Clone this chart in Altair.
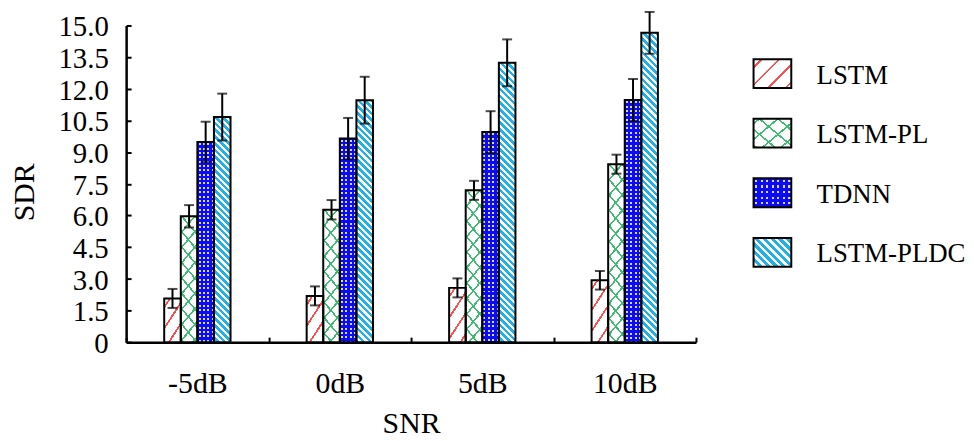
import math
import altair as alt

# ---------------- data ----------------
snr_labels = ["-5dB", "0dB", "5dB", "10dB"]
series_names = ["LSTM", "LSTM-PL", "TDNN", "LSTM-PLDC"]

lstm_sdr = [2.07, 2.19, 2.57, 2.93]
lstm_err = [0.45, 0.45, 0.45, 0.44]
lstm_pl_sdr = [5.96, 6.27, 7.19, 8.43]
lstm_pl_err = [0.53, 0.46, 0.45, 0.45]
tdnn_sdr = [9.48, 9.64, 9.95, 11.47]
tdnn_err = [0.96, 0.98, 0.99, 0.99]
lstm_pldc_sdr = [10.66, 11.46, 13.23, 14.65]
lstm_pldc_err = [1.11, 1.11, 1.11, 0.99]

y_tick_values = [0, 1.5, 3.0, 4.5, 6.0, 7.5, 9.0, 10.5, 12.0, 13.5, 15.0]

# ---------------- layout / style ----------------
PLOT_W, PLOT_H = 574, 319
Y_MAX = 15.0
BAND_W = PLOT_W / len(snr_labels)
BAR_W = 16.7
GROUP_START = (BAND_W - len(series_names) * BAR_W) / 2
LEG_W, LEG_STEP, LEG_BAND = 38, 60, 29
LEG_INNER = (LEG_STEP - LEG_BAND) / LEG_STEP
LEG_OUTER = 0.567
LEG_H = LEG_STEP * (len(series_names) - LEG_INNER + 2 * LEG_OUTER)
FONT = "Liberation Serif"

RED = "#ff4d4d"
GREEN = "#3cbc70"
BLUE = "#0c0cf0"
DOT = "#d4d4ff"
CYAN = "#22b0e6"
WHITE = "#ffffff"
CLEAR = "rgba(60,188,112,0)"
CLEAR_BLUE = "rgba(12,12,240,0)"


def _r(x):
    return round(x, 5)


def stripe_fill(w, h, angle, period, width, on, off, phase=0.0):
    """Linear gradient (bbox units) drawing parallel stripes at a pixel angle."""
    th = math.radians(angle)
    nx, ny = math.sin(th), math.cos(th)
    corners = [(0.0, 0.0), (w, 0.0), (0.0, h), (w, h)]
    vals = [nx * x + ny * y for x, y in corners]
    lo, hi = min(vals), max(vals)
    rng = hi - lo
    cx, cy = corners[vals.index(lo)]
    u1, v1 = cx / w, cy / h
    ax, ay = nx * w / rng, ny * h / rng
    a2 = ax * ax + ay * ay
    u2, v2 = u1 + ax / a2, v1 + ay / a2
    stops = []
    k = math.floor((lo - phase) / period)
    s = phase + k * period
    while s < hi:
        a, b = max(s, lo), min(s + width, hi)
        if b > a:
            ta, tb = _r((a - lo) / rng), _r((b - lo) / rng)
            stops += [{"offset": ta, "color": off}, {"offset": ta, "color": on},
                      {"offset": tb, "color": on}, {"offset": tb, "color": off}]
        s += period
    if not stops:
        stops = [{"offset": 0, "color": off}, {"offset": 1, "color": off}]
    return {"gradient": "linear", "x1": _r(u1), "y1": _r(v1),
            "x2": _r(u2), "y2": _r(v2), "stops": stops}


BAR_PATTERNS = {
    "LSTM": [dict(angle=57, period=11.5, width=1.8, on=RED, off=WHITE, phase=4), None, None],
    "LSTM-PL": [dict(angle=50, period=10.0, width=1.6, on=GREEN, off=WHITE),
                dict(angle=130, period=10.0, width=1.6, on=GREEN, off=CLEAR), None],
    "TDNN": [DOT,
             dict(angle=90, period=4.4, width=2.0, on=CLEAR_BLUE, off=BLUE, phase=1.2),
             dict(angle=0, period=4.4, width=2.0, on=CLEAR_BLUE, off=BLUE, phase=1.2)],
    "LSTM-PLDC": [dict(angle=135, period=4.8, width=2.6, on=CYAN, off=WHITE), None, None],
}
LEG_PATTERNS = {
    "LSTM": [dict(angle=45, period=12.5, width=1.8, on=RED, off=WHITE, phase=5), None, None],
    "LSTM-PL": [dict(angle=40, period=12.0, width=1.6, on=GREEN, off=WHITE, phase=3),
                dict(angle=140, period=12.0, width=1.6, on=GREEN, off=CLEAR, phase=3), None],
    "TDNN": [DOT,
             dict(angle=90, period=5.6, width=2.2, on=CLEAR_BLUE, off=BLUE, phase=1.5),
             dict(angle=0, period=5.6, width=2.2, on=CLEAR_BLUE, off=BLUE, phase=1.5)],
    "LSTM-PLDC": [dict(angle=135, period=5.5, width=3.0, on=CYAN, off=WHITE), None, None],
}


def pattern_fills(series, w, h, spec):
    out = []
    for layer in spec[series]:
        if layer is None:
            out.append("transparent")
        elif isinstance(layer, str):
            out.append(layer)
        else:
            out.append(stripe_fill(w, h, **layer))
    return out


sdr_by_series = dict(zip(series_names, [lstm_sdr, lstm_pl_sdr, tdnn_sdr, lstm_pldc_sdr]))
err_by_series = dict(zip(series_names, [lstm_err, lstm_pl_err, tdnn_err, lstm_pldc_err]))

bar_rows = []
for s in series_names:
    for i, snr in enumerate(snr_labels):
        v = sdr_by_series[s][i]
        e = err_by_series[s][i]
        g1, g2, g3 = pattern_fills(s, BAR_W, v * PLOT_H / Y_MAX, BAR_PATTERNS)
        bar_rows.append(dict(snr=snr, series=s, sdr=v, lo=v - e, hi=v + e,
                             g1=g1, g2=g2, g3=g3))

leg_rows = []
for s in series_names:
    g1, g2, g3 = pattern_fills(s, LEG_W, LEG_BAND, LEG_PATTERNS)
    leg_rows.append(dict(series=s, g1=g1, g2=g2, g3=g3))

# ---------------- axes ----------------
x_axis = alt.Axis(
    title="SNR", labelAngle=0, labelFont=FONT, labelFontSize=30, labelPadding=32,
    labelColor="black", tickBand="extent", tickSize=alt.ExprRef(expr="-5"),
    tickWidth=2, tickColor="black", domainColor="black", domainWidth=2.5, grid=False,
    titleFont=FONT, titleFontSize=30, titleFontWeight="normal", titleColor="black",
    titleX=PLOT_W / 2, titleY=91, titleBaseline="alphabetic", titleAlign="center",
)
y_axis = alt.Axis(
    title="SDR", values=y_tick_values,
    labelExpr="datum.value == 0 ? '0' : format(datum.value, '.1f')",
    labelFont=FONT, labelFontSize=29, labelPadding=23, labelOffset=1.3, labelColor="black",
    tickSize=alt.ExprRef(expr="-5"), tickWidth=2, tickColor="black",
    domainColor="black", domainWidth=2.5, grid=False,
    titleFont=FONT, titleFontSize=30, titleFontWeight="normal", titleColor="black",
    titleX=-93, titleY=167.5, titleBaseline="alphabetic", titleAngle=270, titleAlign="center",
)

bar_x = alt.X("snr:N", sort=snr_labels, scale=alt.Scale(paddingInner=0, paddingOuter=0), axis=x_axis)
bar_off = alt.XOffset("series:N", sort=series_names,
                      scale=alt.Scale(paddingInner=0, paddingOuter=0,
                                      range=[GROUP_START, GROUP_START + len(series_names) * BAR_W]))


def y_enc(field):
    return alt.Y(f"{field}:Q", scale=alt.Scale(domain=[0, Y_MAX], nice=False, zero=True), axis=y_axis)


base = alt.Chart(alt.Data(values=bar_rows))
layers = [
    base.mark_bar().encode(x=bar_x, xOffset=bar_off, y=y_enc("sdr"), fill=alt.Fill("g1:N", scale=None)),
    base.mark_bar().encode(x=bar_x, xOffset=bar_off, y=y_enc("sdr"), fill=alt.Fill("g2:N", scale=None)),
    base.mark_bar(stroke="black", strokeWidth=2).encode(
        x=bar_x, xOffset=bar_off, y=y_enc("sdr"), fill=alt.Fill("g3:N", scale=None)),
    base.mark_rule(color="black", strokeWidth=2).encode(
        x=bar_x, xOffset=bar_off, y=y_enc("lo"), y2="hi:Q"),
    base.mark_tick(color="black", thickness=2, size=10).encode(x=bar_x, xOffset=bar_off, y=y_enc("lo")),
    base.mark_tick(color="black", thickness=2, size=10).encode(x=bar_x, xOffset=bar_off, y=y_enc("hi")),
]
main = alt.layer(*layers).properties(width=PLOT_W, height=PLOT_H)

leg_y = alt.Y(
    "series:N", sort=series_names,
    scale=alt.Scale(paddingInner=LEG_INNER, paddingOuter=LEG_OUTER),
    axis=alt.Axis(orient="right", title=None, domain=False, ticks=False, grid=False,
                  labelFont=FONT, labelFontSize=27, labelPadding=25, labelOffset=2,
                  labelAlign="left", labelColor="black", labelLimit=0),
)
leg_base = alt.Chart(alt.Data(values=leg_rows))
legend = alt.layer(
    leg_base.mark_rect().encode(y=leg_y, fill=alt.Fill("g1:N", scale=None)),
    leg_base.mark_rect().encode(y=leg_y, fill=alt.Fill("g2:N", scale=None)),
    leg_base.mark_rect(stroke="black", strokeWidth=2).encode(y=leg_y, fill=alt.Fill("g3:N", scale=None)),
).properties(width=LEG_W, height=LEG_H)

chart = (
    alt.hconcat(main, legend, spacing=54)
    .properties(padding={"left": 1, "top": 0, "right": 0, "bottom": 0})
    .configure(font=FONT)
    .configure_view(stroke="transparent")
)

chart.save("out.html", embed_options={"renderer": "svg", "actions": False})
